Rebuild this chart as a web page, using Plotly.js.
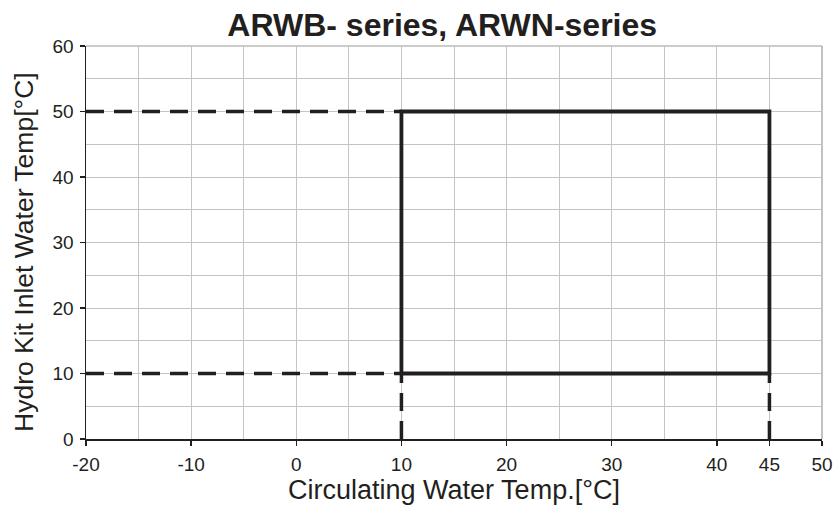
<!DOCTYPE html>
<html>
<head>
<meta charset="utf-8">
<script src="https://cdn.plot.ly/plotly-3.0.1.min.js"></script>
<style>html,body{margin:0;padding:0;background:#fff;}#chart{width:837px;height:508px;}</style>
</head>
<body>
<div id="chart"></div>
<script>
// Operating envelope (solid)
const envelopeX = [10, 45, 45, 10, 10];
const envelopeY = [10, 10, 50, 50, 10];
// Dashed guide lines (null separates segments)
const guideX = [-20, 10, null, -20, 10, null, 10, 10, null, 45, 45];
const guideY = [50, 50, null, 10, 10, null, 0, 10, null, 0, 10];
// Axis ticks
const xTickVals = [-20, -10, 0, 10, 20, 30, 40, 45, 50];
const xTickText = ['-20', '-10', '0', '10', '20', '30', '40', '45', '50'];
const yTickVals = [0, 10, 20, 30, 40, 50, 60];
const chartTitle = 'ARWB- series, ARWN-series';
const xTitle = 'Circulating Water Temp.[°C]';
const yTitle = 'Hydro Kit Inlet Water Temp[°C]';

const ink = '#231f20';
const font = 'Liberation Sans, Arial, Helvetica, sans-serif';
const grid = '#c4c4c4';

const traces = [
  {x: guideX, y: guideY, mode: 'lines', connectgaps: false,
   line: {color: ink, width: 3.5, dash: '18px,10px'}, hoverinfo: 'skip'},
  {x: envelopeX, y: envelopeY, mode: 'lines',
   line: {color: ink, width: 3.8}, hoverinfo: 'skip'}
];

const layout = {
  width: 837, height: 508,
  margin: {l: 86, r: 15, t: 46, b: 69},
  paper_bgcolor: '#fff', plot_bgcolor: '#fff',
  showlegend: false,
  font: {family: font, color: ink, size: 18},
  title: {text: '<b>' + chartTitle + '</b>', xref: 'paper', x: 0.484, xanchor: 'center',
          yref: 'container', y: 0.952, yanchor: 'middle', font: {size: 32, color: ink, family: font}},
  xaxis: {
    range: [-20, 50], tickvals: xTickVals, ticktext: xTickText,
    ticks: 'outside', ticklen: 5, tickwidth: 1.5, tickcolor: ink,
    showline: true, linecolor: ink, linewidth: 1.5, mirror: false,
    showgrid: true, gridcolor: grid, gridwidth: 1,
    minor: {dtick: 5, tick0: 0, showgrid: true, gridcolor: grid, gridwidth: 1, ticks: ''},
    zeroline: false,
    ticklabelstandoff: 3,
    tickfont: {size: 19, color: ink},
    title: {text: xTitle, standoff: 3, font: {size: 27, color: ink}},
    fixedrange: true
  },
  yaxis: {
    range: [0, 60], tickvals: yTickVals,
    ticks: 'outside', ticklen: 5, tickwidth: 1.5, tickcolor: ink,
    showline: true, linecolor: ink, linewidth: 1.5,
    showgrid: true, gridcolor: grid, gridwidth: 1,
    minor: {dtick: 5, tick0: 0, showgrid: true, gridcolor: grid, gridwidth: 1, ticks: ''},
    zeroline: false,
    ticklabelstandoff: 2,
    tickfont: {size: 19, color: ink},
    fixedrange: true
  },
  annotations: [
    {text: yTitle, textangle: -90, xref: 'paper', yref: 'paper',
     x: -(86 - 24) / 736, y: (439 - 252) / 393, xanchor: 'center', yanchor: 'middle',
     showarrow: false, font: {size: 26.5, color: ink, family: font}}
  ],
  shapes: [
    {type: 'line', xref: 'paper', yref: 'paper', x0: 0, x1: 1, y0: 1, y1: 1,
     line: {color: '#999999', width: 1.2}, layer: 'below'},
    {type: 'line', xref: 'paper', yref: 'paper', x0: 1, x1: 1, y0: 0, y1: 1,
     line: {color: '#999999', width: 1.2}, layer: 'below'}
  ]
};

Plotly.newPlot('chart', traces, layout, {displayModeBar: false, staticPlot: true});
</script>
</body>
</html>
